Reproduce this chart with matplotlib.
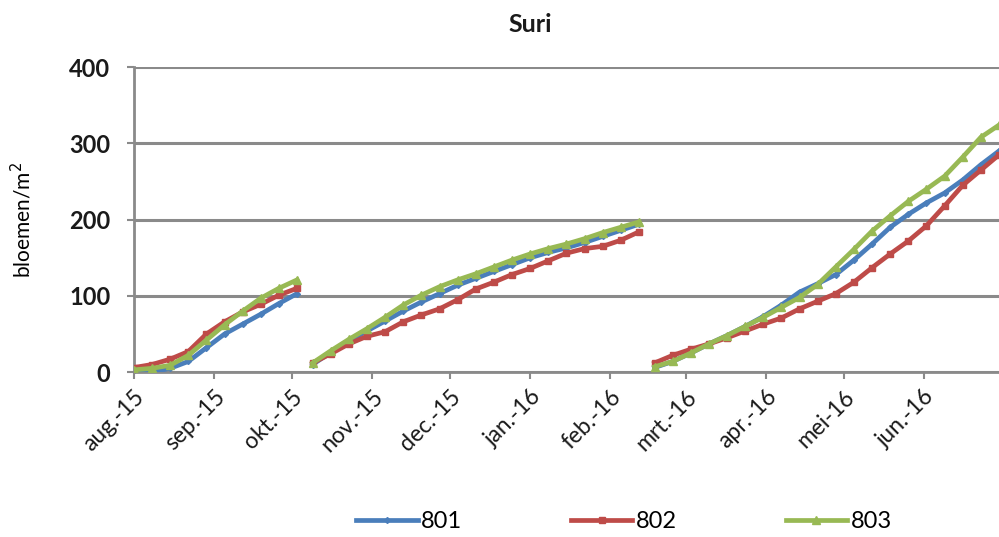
import matplotlib
matplotlib.use("Agg")
import matplotlib.pyplot as plt
import numpy as np
import pandas as pd

plt.rcParams['font.family'] = ['Lato', 'DejaVu Sans']

# weekly counts, three flowering periods
dates1 = pd.date_range('2015-08-01', periods=10, freq='7D')
dates2 = pd.date_range('2015-10-09', periods=19, freq='7D')
dates3 = pd.date_range('2016-02-18', periods=20, freq='7D')

s801_1 = [0, 0, 5, 14, 32, 50, 63, 76, 90, 103]
s802_1 = [6, 10, 17, 27, 50, 66, 79, 89, 101, 110]
s803_1 = [3, 5, 9, 22, 42, 62, 80, 97, 110, 121]

s801_2 = [10, 26, 41, 54, 67, 80, 92, 103, 114, 123, 132, 141, 150, 157, 163, 170, 178, 186, 194]
s802_2 = [12, 24, 37, 47, 53, 66, 75, 83, 95, 109, 118, 128, 136, 146, 156, 162, 165, 173, 184]
s803_2 = [12, 28, 43, 57, 72, 88, 101, 112, 121, 129, 138, 147, 155, 162, 168, 175, 183, 190, 197]

s801_3 = [6, 14, 25, 37, 48, 60, 73, 88, 105, 116, 128, 147, 168, 190, 207, 222, 235, 252, 272, 290]
s802_3 = [12, 22, 30, 37, 45, 54, 63, 71, 83, 93, 103, 118, 137, 155, 172, 192, 218, 245, 265, 285]
s803_3 = [7, 14, 25, 37, 48, 60, 72, 85, 98, 115, 138, 161, 185, 205, 224, 240, 257, 282, 308, 324]

month_ticks = pd.date_range('2015-08-01', '2016-06-01', freq='MS')
month_labels = ['aug.-15', 'sep.-15', 'okt.-15', 'nov.-15', 'dec.-15', 'jan.-16',
                'feb.-16', 'mrt.-16', 'apr.-16', 'mei-16', 'jun.-16']

series = [
    ('801', '#4a7ebb', 'D', 3, [s801_1, s801_2, s801_3]),
    ('802', '#be4b48', 's', 5, [s802_1, s802_2, s802_3]),
    ('803', '#98b954', '^', 6, [s803_1, s803_2, s803_3]),
]

fig = plt.figure(figsize=(9.99, 5.37), dpi=100)
ax = fig.add_axes([0.134, 0.307, 0.866, 0.568])

for name, col, mk, ms, parts in series:
    for i, (d, v) in enumerate(zip([dates1, dates2, dates3], parts)):
        ax.plot(d, v, color=col, lw=3.4, marker=mk, ms=ms, mec=col, mfc=col,
                label=name if i == 0 else None, zorder=3)

ax.set_ylim(0, 400)
ax.set_yticks([0, 100, 200, 300, 400])
ax.set_xlim(pd.Timestamp('2015-08-01'), pd.Timestamp('2016-06-30'))
ax.set_xticks(month_ticks)
ax.set_xticklabels(month_labels, rotation=45, ha='right', rotation_mode='anchor')

ax.grid(axis='y', color='#8a8a8a', lw=2.2)
ax.set_axisbelow(True)
for sp in ['top', 'right']:
    ax.spines[sp].set_visible(False)
for sp in ['left', 'bottom']:
    ax.spines[sp].set_color('#8a8a8a')
    ax.spines[sp].set_linewidth(2)
ax.tick_params(axis='y', labelsize=17, length=5, width=1.5, color='#8a8a8a', pad=12,
               labelcolor='#1a1a1a')
ax.tick_params(axis='x', labelsize=16.5, length=5, width=1.5, color='#8a8a8a', pad=5,
               labelcolor='#1a1a1a')
for lab in ax.get_yticklabels():
    lab.set_fontweight('bold')

ax.set_ylabel('bloemen/m$^2$', fontsize=15)
ax.yaxis.set_label_coords(-0.115, 0.5)
fig.text(530 / 999, 1 - 25 / 537, 'Suri', fontsize=18, fontweight='bold',
         ha='center', va='center', color='#1a1a1a')

fig.legend(loc='center', bbox_to_anchor=(624 / 999, 1 - 522 / 537), ncol=3,
           frameon=False, fontsize=17, handlelength=2.6, columnspacing=4.6,
           handletextpad=0.15)

fig.savefig('out.png', dpi=100)
